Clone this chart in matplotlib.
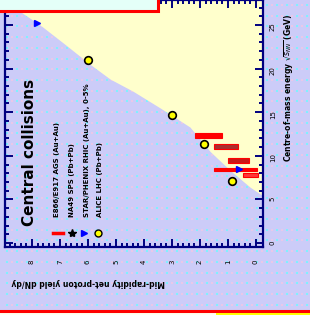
import numpy as np
import matplotlib.pyplot as plt
from matplotlib.patches import Rectangle

# edge of the allowed (yellow) region
edge_x = [0.0, 0.64, 1.29, 2.25, 3.07, 3.79, 4.61, 5.57, 6.64, 7.36, 8.07, 8.79, 9.3]
edge_y = [5.6, 5.28, 5.00, 4.52, 4.10, 3.76, 3.48, 3.10, 2.66, 2.10, 1.67, 1.28, 1.06]

# data points
flag_x = [1.18, 8.39]
flag_y = [5.05, 1.70]
dot_x = [3.0, 6.0, 7.14, 8.14]
dot_y = [4.20, 2.94, 2.27, 1.42]

# ranges (red bars)
bar_left = [6.82, 7.50, 8.00, 7.50, 8.54]
bar_right = [7.79, 8.36, 8.75, 9.04, 9.07]
bar_y = [2.47, 2.21, 1.89, 1.69, 1.56]
bar_fill = ['#ff0000', '#a83030', '#c81818', '#ff0000', '#ff3838']
bar_h = [0.12, 0.12, 0.12, 0.06, 0.10]

x_ticks = [1, 2, 3, 4, 5, 6, 7, 8, 9]
x_tick_labels = ['8', '7', '6', '5', '4', '3', '2', '1', '0']
y_ticks = [0, 1, 2, 3, 4, 5]
y_tick_labels = ['0', '5', '10', '15', '20', '25']

legend_labels = ['E866/E917 AGS (Au+Au)', 'NA49 SPS (Pb+Pb)',
                 'STAR/PHENIX RHIC (Au+Au), 0-5%', 'ALICE LHC (Pb+Pb)']

lavender = '#ccccf8'
pale_yellow = '#ffffcc'
navy = '#000080'

W, H = 310, 315
fig = plt.figure(figsize=(W / 100, H / 100), dpi=100, facecolor=lavender)

# background with the dotted texture
bg = fig.add_axes([0, 0, 1, 1], zorder=-1)
bg.set_facecolor(lavender)
gx, gy = np.meshgrid(np.arange(7, W, 10), np.arange(5, H, 10.7))
bg.scatter(gx.ravel(), gy.ravel(), s=1.0, c='#80f0ff', marker='s', linewidths=0)
bg.scatter(gx.ravel() + 5, gy.ravel(), s=0.8, c='#e8c8e8', marker='s', linewidths=0)
bg.set_xlim(0, W)
bg.set_ylim(H, 0)
bg.axis('off')

ax = fig.add_axes([5 / W, (H - 247) / H, 258 / W, 247 / H])
ax.set_facecolor('none')
ax.set_xlim(0.036, 9.25)
ax.set_ylim(-0.092, 5.573)

ax.fill_between(edge_x, edge_y, 6, color=pale_yellow, linewidth=0, zorder=1)

for l, r, y, c, h in zip(bar_left, bar_right, bar_y, bar_fill, bar_h):
    ax.barh(y, r - l, left=l, height=h, color=c, edgecolor='#ff0000',
            linewidth=0.8, zorder=3)

ax.plot(flag_x, flag_y, '>', color='#0000ff', markersize=5, zorder=4)
ax.plot(dot_x, dot_y, 'o', color='#ffff00', markeredgecolor='black',
        markeredgewidth=1.2, markersize=5.5, zorder=4)

for side in ax.spines.values():
    side.set_color(navy)
    side.set_linewidth(1.6)

ax.set_xticks(x_ticks)
ax.set_xticklabels(x_tick_labels)
ax.set_yticks(y_ticks)
ax.set_yticklabels(y_tick_labels)
ax.set_xticks(np.arange(0.2, 9.2, 0.2), minor=True)
ax.set_yticks(np.arange(0.2, 5.6, 0.2), minor=True)
ax.tick_params(which='both', direction='in', color=navy, width=1.4,
               top=True, bottom=True, left=True, right=True,
               labelleft=False, labelright=True, labelsize=5)
ax.tick_params(which='major', length=5.5)
ax.tick_params(which='minor', length=3)
ax.tick_params(axis='x', labelrotation=90, pad=9)
ax.tick_params(axis='y', labelrotation=90, pad=5)

# title and legend, turned sideways
fig.text(30 / W, 1 - 226 / H, 'Central collisions', rotation=90,
         ha='center', va='bottom', fontsize=11, fontweight='bold')

leg_x = [57, 72, 87, 100]
for x, lab in zip(leg_x, legend_labels):
    fig.text(x / W, 1 - 217 / H, lab, rotation=90, ha='center', va='bottom',
             fontsize=5, fontweight='bold')
lt = fig.transFigure
fig.add_artist(plt.Line2D([53 / W, 63 / W], [1 - 233 / H] * 2, color='#ff0000',
                          linewidth=2.5, transform=lt))
fig.add_artist(plt.Line2D([72 / W], [1 - 233 / H], marker='*', color='black',
                          markersize=6, transform=lt))
fig.add_artist(plt.Line2D([84 / W], [1 - 233 / H], marker='>', color='#0000ff',
                          markersize=5, transform=lt))
fig.add_artist(plt.Line2D([98 / W], [1 - 233 / H], marker='o', color='#ffff00',
                          markeredgecolor='black', markersize=5, transform=lt))

# axis titles
fig.text(289 / W, 1 - 162 / H, r'Centre-of-mass energy $\sqrt{s_{NN}}$ (GeV)',
         rotation=90, ha='center', va='bottom', fontsize=5.5, fontweight='bold')
fig.text(88 / W, 1 - 283 / H, 'Mid-rapidity net-proton yield dN/dy',
         rotation=180, ha='center', va='center', fontsize=5.5, fontweight='bold')

# bits of the neighbouring panels
fig.add_artist(Rectangle((-0.05, 1 - 11 / H), 158 / W + 0.05, 0.2, transform=lt,
                         facecolor='#e4fff8', edgecolor='#ff0000', linewidth=2.2,
                         zorder=10))
fig.add_artist(Rectangle((-0.05, -0.1), 216 / W + 0.05, 0.1 + 4 / H, transform=lt,
                         facecolor='#fffff0', edgecolor='none', zorder=10))
fig.add_artist(Rectangle((216 / W, -0.1), 0.4, 0.1 + 4 / H, transform=lt,
                         facecolor='#ffff00', edgecolor='none', zorder=10))
fig.add_artist(plt.Line2D([0, 1], [1 - 311 / H] * 2, color='#ff0000',
                          linewidth=2.2, transform=lt, zorder=11))

fig.savefig('out.png', dpi=100, facecolor=lavender)
